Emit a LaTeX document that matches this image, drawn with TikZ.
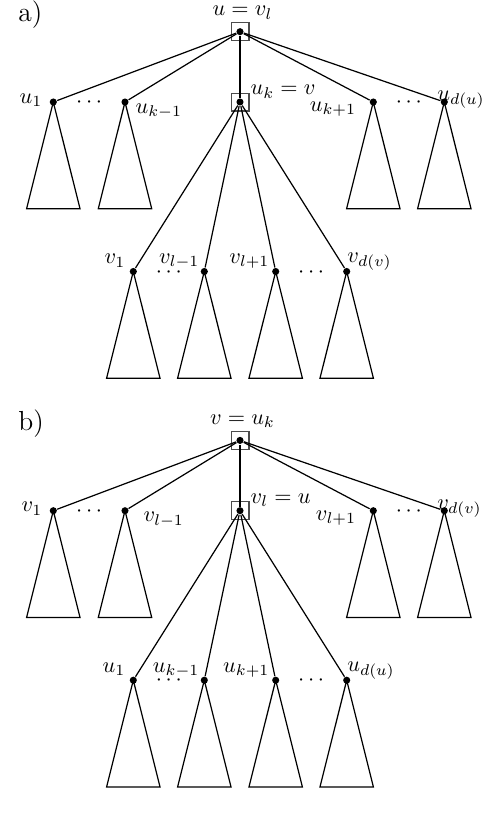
\documentclass[tikz,border=0pt]{standalone}
\usetikzlibrary{positioning,calc}
\begin{document}
\begin{tikzpicture}[x=0.45pt, y=-0.45pt, line width=0.55pt]
\tikzset{vert/.style={circle, fill, inner sep=0pt, minimum size=3.2pt}, marked/.style={draw=black!70, line width=0.55pt, minimum size=8pt, inner sep=0pt}, lbl/.style={inner sep=0pt}, paneltag/.style={inner sep=0pt, font=\fontsize{12.4}{15}\selectfont}}
\useasboundingbox (0,0) rectangle (498,820);
\foreach \dy/\p/\q/\P/\Q/\tg/\sx in {0/u/v/k/l/a/10, 408.7/v/u/l/k/b/18} {
  % panel tag and root
  \node[paneltag, anchor=base west] (t) at (17.8,21.5+\dy) {\tg)};
  \node[vert] (r) at (240,31.7+\dy) {};
  \node[marked] (s0) at (r) {};
  % children of the root
  \foreach \i/\x in {1/53.3,2/125,3/240,4/373.3,5/444.3} \node[vert] (c\i) at (\x,102+\dy) {};
  \node[marked] (s1) at (c3) {};
  % grandchildren
  \foreach \i/\x in {1/133.3,2/204.3,3/275.7,4/346.7} \node[vert] (d\i) at (\x,271.5+\dy) {};
  \foreach \i in {1,...,5} \draw (r) -- (c\i);
  \foreach \i in {1,...,4} \draw (c3) -- (d\i);
  % subtrees
  \foreach \n in {c1,c2,c4,c5,d1,d2,d3,d4} \draw (\n.center) -- ++(-26.7,106.7) -- ++(53.4,0) -- cycle;
  \node (e1) [anchor=base] at ($(c1)!0.5!(c2)+(0,5.5)$) {$\cdots$};
  \node (e2) [anchor=base] at ($(c4)!0.5!(c5)+(0,5.5)$) {$\cdots$};
  \node (e3) [anchor=base] at ($(d1)!0.5!(d2)+(0,5.5)$) {$\cdots$};
  \node (e4) [anchor=base] at ($(d3)!0.5!(d4)+(0,5.5)$) {$\cdots$};
  % labels
  \node[lbl, anchor=base] (lr) at ($(r)+(2.5,-16)$) {$\p=\q_\Q$};
  \node[lbl, anchor=base east] (l1) at ($(c1)+(-10.3,1)$) {$\p_1$};
  \node[lbl, anchor=base west] (l2) at ($(c2)+(\sx,11)$) {$\p_{\P-1}$};
  \node[lbl, anchor=base west] (l3) at ($(c3)+(10,-7.3)$) {$\p_\P=\q$};
  \node[lbl, anchor=base east] (l4) at ($(c4)+(-16.6,9.3)$) {$\p_{\P+1}$};
  \node[lbl, anchor=base west] (l5) at ($(c5)+(-7.6,-1.3)$) {$\p_{d(\p)}$};
  \node[lbl, anchor=base east] (m1) at ($(d1)+(-7.3,-7.7)$) {$\q_1$};
  \node[lbl, anchor=base east] (m2) at ($(d2)+(-4.3,-8.2)$) {$\q_{\Q-1}$};
  \node[lbl, anchor=base east] (m3) at ($(d3)+(-5.7,-8.2)$) {$\q_{\Q+1}$};
  \node[lbl, anchor=base west] (m4) at ($(d4)+(0,-8.7)$) {$\q_{d(\q)}$};
}
\end{tikzpicture}
\end{document}
